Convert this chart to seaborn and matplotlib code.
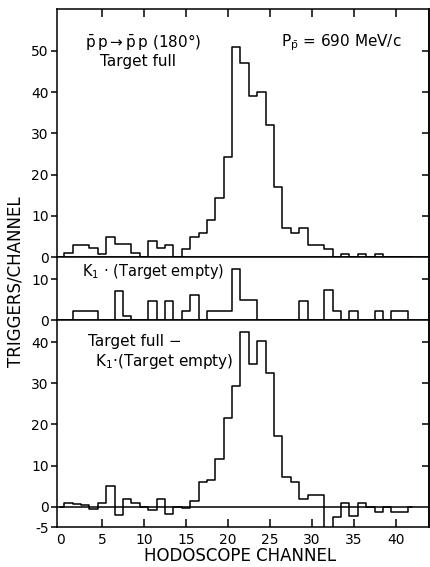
import seaborn as sns
from matplotlib import pyplot as plt

# hodoscope channels 0..42 (0 and 42 are empty edge bins)
channels = list(range(43))

# target full
full_counts = [0, 1, 3, 3, 2.2, 0.8, 5, 3.1, 3.1, 1, 0, 4, 2.2, 3, 0, 2, 5, 6, 9, 14.3,
               24.4, 51, 47, 39, 40, 32, 17, 7.2, 6, 7, 3, 3, 2, 0, 0.8, 0, 0.8, 0, 0.8,
               0, 0, 0, 0]

# K1 * (target empty)
empty_counts = [0, 0, 2.3, 2.3, 2.3, 0, 0, 7.2, 1.1, 0, 0, 4.7, 0, 4.7, 0, 2.3, 6, 0,
                2.3, 2.3, 2.3, 12.4, 4.9, 4.9, 0, 0, 0, 0, 0, 4.7, 0, 0, 7.3, 2.3, 0,
                2.3, 0, 0, 2.3, 0, 2.3, 2.3, 0]

# target full - K1 * (target empty)
diff_counts = [0, 1, 0.6, 0.5, -0.5, 1, 5, -2, 2, 0.8, 0, -0.8, 2, -1.8, 0, -0.4, 1.4,
               6, 6.6, 11.7, 21.6, 29.4, 42.4, 34.6, 40.3, 32.5, 17.2, 7.3, 6, 2, 2.8,
               2.8, -6, -2.4, 1, -2.3, 1, 0, -1.3, 0, -1.3, -1.3, 0]

x_ticks = [0, 5, 10, 15, 20, 25, 30, 35, 40]
top_yticks = [0, 10, 20, 30, 40, 50]
mid_yticks = [0, 10]
bot_yticks = [-5, 0, 10, 20, 30, 40]

sns.set_style("ticks")
plt.rcParams['font.family'] = ['DejaVu Sans']
plt.rcParams['axes.linewidth'] = 1.1
plt.rcParams['axes.unicode_minus'] = False
for key in ['text.color', 'axes.labelcolor', 'xtick.color', 'ytick.color',
            'axes.edgecolor']:
    plt.rcParams[key] = 'black'

fig = plt.figure(figsize=(4.3, 5.67), dpi=100)
left, right = 0.1326, 0.998
ax_top = fig.add_axes([left, 0.5462, right - left, 0.9841 - 0.5462])
ax_mid = fig.add_axes([left, 0.4356, right - left, 0.5462 - 0.4356])
ax_bot = fig.add_axes([left, 0.0700, right - left, 0.4356 - 0.0700])

line_kw = dict(drawstyle='steps-mid', color='black', lw=1.1, errorbar=None)
sns.lineplot(x=channels, y=full_counts, ax=ax_top, **line_kw)
sns.lineplot(x=channels, y=empty_counts, ax=ax_mid, **line_kw)
sns.lineplot(x=channels, y=diff_counts, ax=ax_bot, **line_kw)
ax_bot.axhline(0, color='black', lw=1.1)

limits = [(ax_top, (0, 60.1), top_yticks), (ax_mid, (0, 15.3), mid_yticks),
          (ax_bot, (-5, 45.4), bot_yticks)]
for ax, ylim, yt in limits:
    ax.set_xlim(-0.37, 44.0)
    ax.set_ylim(*ylim)
    ax.set_yticks(yt)
    ax.set_xlabel('')
    ax.set_ylabel('')
    ax.tick_params(axis='y', direction='out', length=4, width=1.1, labelsize=10, pad=2)
    sec = ax.secondary_yaxis('right')
    sec.set_yticks([t for t in yt if t > 0])
    sec.tick_params(direction='in', length=5, width=1.1, labelright=False)

ax_top.set_xticks(x_ticks[1:])
ax_top.tick_params(axis='x', top=True, bottom=False, labelbottom=False,
                   direction='in', length=6, width=1.1)
ax_mid.set_xticks([])

ax_bot.set_xticks(x_ticks)
ax_bot.tick_params(axis='x', direction='in', length=6, width=1.1, labelsize=10, pad=4)
ax_bot.xaxis.get_major_ticks()[0].tick1line.set_visible(False)

ax_top.text(3, 52, r'$\mathregular{\bar{p}\,p \rightarrow \bar{p}\,p}$ (180°)', fontsize=11,
            va='center')
ax_top.text(4.75, 47.3, 'Target full', fontsize=11, va='center')
ax_top.text(26.3, 52, r'$\mathregular{P_{\bar{p}}}$ = 690 MeV/c', fontsize=11, va='center')
ax_mid.text(2.6, 11.8, r'K$_\mathregular{1}$ · (Target empty)', fontsize=10.5, va='center')
ax_bot.text(3.3, 40.1, 'Target full −', fontsize=11, va='center')
ax_bot.text(4.15, 35.2, r'K$_\mathregular{1}$·(Target empty)', fontsize=11, va='center')

fig.text(0.035, 0.504, 'TRIGGERS/CHANNEL', rotation=90, fontsize=12,
         ha='center', va='center')
fig.text(0.558, 0.019, 'HODOSCOPE CHANNEL', fontsize=12, ha='center', va='center')

fig.savefig('out.png', dpi=100)
